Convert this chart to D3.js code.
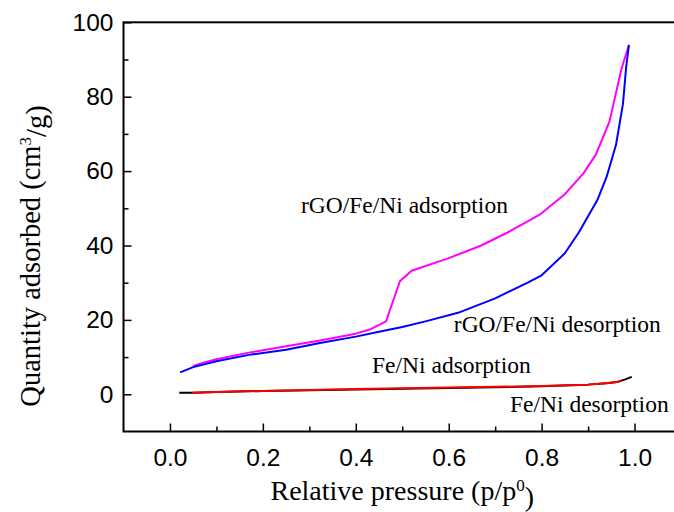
<!DOCTYPE html>
<html>
<head>
<meta charset="utf-8">
<script src="https://cdn.jsdelivr.net/npm/d3@7"></script>
<style>
  body { margin: 0; background: #fff; }
  svg { display: block; }
</style>
</head>
<body>
<svg class="isotherm" width="674" height="512"></svg>
<script>
// Tick values
const xMajorTicks = [0, 0.2, 0.4, 0.6, 0.8, 1.0];
const xMinorTicks = [0.1, 0.3, 0.5, 0.7, 0.9];
const yMajorTicks = [0, 20, 40, 60, 80, 100];
const yMinorTicks = [10, 30, 50, 70, 90];

// Isotherm series, [p/p0, quantity]
const rgoAdsorption = [
  [0.05, 7.6], [0.07, 8.4], [0.10, 9.4], [0.17, 11.2], [0.25, 12.9], [0.32, 14.4],
  [0.40, 16.3], [0.43, 17.4], [0.465, 19.6], [0.495, 30.4], [0.52, 33.2],
  [0.60, 36.6], [0.67, 40.0], [0.73, 43.7], [0.795, 48.2], [0.85, 53.8],
  [0.89, 59.4], [0.917, 64.5], [0.946, 73.3], [0.972, 87.6], [0.988, 93.9]
];
const rgoDesorption = [
  [0.022, 5.9], [0.05, 7.3], [0.10, 8.9], [0.17, 10.6], [0.25, 12.0], [0.32, 13.7],
  [0.40, 15.5], [0.45, 16.8], [0.50, 18.1], [0.55, 19.6], [0.62, 21.9], [0.70, 25.8],
  [0.77, 30.0], [0.80, 32.0], [0.85, 37.9], [0.88, 43.5], [0.92, 52.2], [0.94, 58.5],
  [0.96, 67.0], [0.975, 78.0], [0.982, 88.0], [0.988, 93.9]
];
const feNiAdsorption = [
  [0.02, 0.4], [0.05, 0.45], [0.10, 0.6], [0.20, 0.9], [0.30, 1.1], [0.40, 1.3],
  [0.50, 1.5], [0.60, 1.7], [0.70, 1.9], [0.80, 2.15], [0.86, 2.4], [0.90, 2.6],
  [0.94, 3.0], [0.965, 3.4], [0.98, 4.0], [0.994, 4.7]
];
const feNiDesorption = [
  [0.047, 0.45], [0.10, 0.65], [0.20, 0.9], [0.30, 1.15], [0.40, 1.4], [0.50, 1.6],
  [0.60, 1.8], [0.70, 2.0], [0.80, 2.2], [0.86, 2.4], [0.90, 2.6], [0.93, 2.9],
  [0.955, 3.2], [0.972, 3.6]
];

const svg = d3.select('.isotherm');

// Scales (right side of the frame runs past the picture edge)
const xScale = d3.scaleLinear().domain([-0.1, 1.1]).range([123.5, 681]);
const yScale = d3.scaleLinear().domain([-10, 100]).range([431.5, 22.3]);

const sansFont = '"Liberation Sans", Arial, sans-serif';
const serifFont = '"Liberation Serif", "Times New Roman", serif';

// Bottom axis, ticks pointing inward
svg.append('g')
  .attr('transform', `translate(0, ${yScale(-10)})`)
  .call(d3.axisBottom(xScale).tickValues(xMajorTicks).tickSize(-8).tickPadding(17)
    .tickFormat(d3.format('.1f')));
svg.append('g')
  .attr('transform', `translate(0, ${yScale(-10)})`)
  .call(d3.axisBottom(xScale).tickValues(xMinorTicks).tickSize(-5).tickFormat(''));

// Left axis
svg.append('g')
  .attr('transform', `translate(${xScale(-0.1)}, 0)`)
  .call(d3.axisLeft(yScale).tickValues(yMajorTicks).tickSize(-8).tickPadding(10));
svg.append('g')
  .attr('transform', `translate(${xScale(-0.1)}, 0)`)
  .call(d3.axisLeft(yScale).tickValues(yMinorTicks).tickSize(-5).tickFormat(''));

svg.selectAll('.domain').remove();
svg.selectAll('.tick line').attr('stroke', '#000').attr('stroke-width', 1.5);
svg.selectAll('.tick text')
  .attr('fill', '#000')
  .style('font-family', sansFont)
  .style('font-size', '24.5px');

// Frame
svg.append('rect')
  .attr('x', xScale(-0.1))
  .attr('y', yScale(100))
  .attr('width', xScale(1.1) - xScale(-0.1))
  .attr('height', yScale(-10) - yScale(100))
  .attr('fill', 'none')
  .attr('stroke', '#000')
  .attr('stroke-width', 2);

// Curves
const line = d3.line()
  .x(d => xScale(d[0]))
  .y(d => yScale(d[1]));

const series = [
  { data: rgoAdsorption, color: '#ff00ff' },
  { data: rgoDesorption, color: '#0000ff' },
  { data: feNiAdsorption, color: '#000000' },
  { data: feNiDesorption, color: '#ff0000' }
];

series.forEach(s => {
  svg.append('path')
    .datum(s.data)
    .attr('fill', 'none')
    .attr('stroke', s.color)
    .attr('stroke-width', 2)
    .attr('stroke-linejoin', 'round')
    .attr('d', line);
});

// Curve labels
const notes = [
  { text: 'rGO/Fe/Ni adsorption', p: 0.282, q: 48.7 },
  { text: 'rGO/Fe/Ni desorption', p: 0.611, q: 16.8 },
  { text: 'Fe/Ni adsorption', p: 0.435, q: 5.7 },
  { text: 'Fe/Ni desorption', p: 0.732, q: -4.8 }
];
svg.selectAll('.note')
  .data(notes)
  .join('text')
  .attr('class', 'note')
  .attr('x', d => xScale(d.p))
  .attr('y', d => yScale(d.q))
  .style('font-family', serifFont)
  .style('font-size', '23.5px')
  .attr('fill', '#000')
  .text(d => d.text);

// Axis titles
const xTitle = svg.append('text')
  .attr('x', (xScale(-0.1) + xScale(1.1)) / 2)
  .attr('y', 500)
  .attr('text-anchor', 'middle')
  .style('font-family', serifFont)
  .style('font-size', '28px');
xTitle.append('tspan').text('Relative pressure (p/p');
xTitle.append('tspan').attr('dy', '-0.55em').style('font-size', '17px').text('0');
xTitle.append('tspan').attr('dy', '0.55em').text(')');

const yTitle = svg.append('text')
  .attr('transform', `translate(40, 256) rotate(-90)`)
  .attr('text-anchor', 'middle')
  .style('font-family', serifFont)
  .style('font-size', '28.5px');
yTitle.append('tspan').text('Quantity adsorbed (cm');
yTitle.append('tspan').attr('dy', '-0.55em').style('font-size', '17px').text('3');
yTitle.append('tspan').attr('dy', '0.55em').text('/g)');
</script>
</body>
</html>
